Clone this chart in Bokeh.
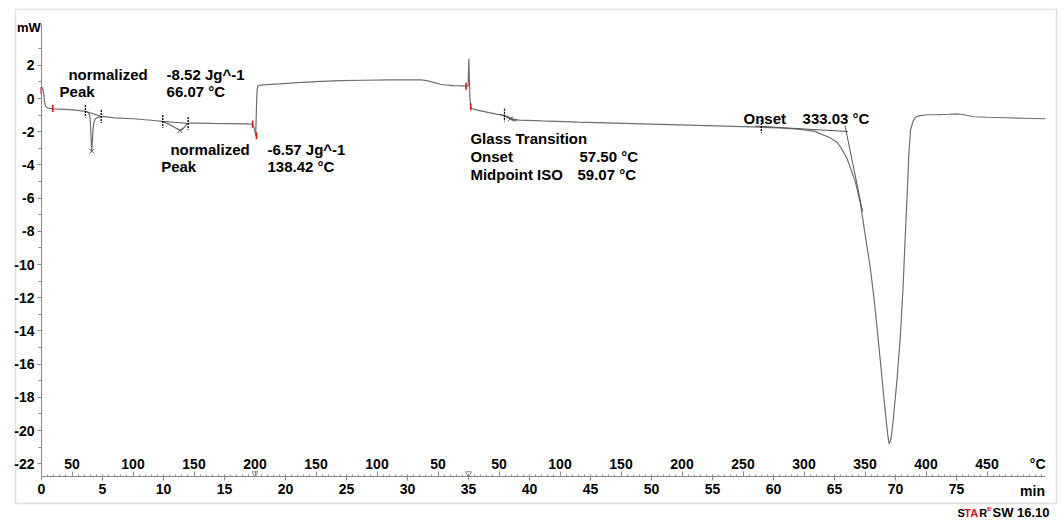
import math
from bokeh.plotting import figure
from bokeh.models import LinearAxis, FixedTicker, Range1d, ColumnDataSource, BoxAnnotation
from bokeh.core.properties import value
from bokeh.embed import file_html
from bokeh.resources import INLINE

FONT = "Liberation Sans"

# ---------------- data (time in min, heat flow in mW) ----------------
# segment 1: heating 25 -> 200 °C
t_heat1 = [0.02, 0.1, 0.18, 0.25, 0.33, 0.45, 0.7, 1.0, 2.0, 3.0, 3.6, 3.85, 3.95, 4.02, 4.07,
           4.11, 4.16, 4.22, 4.3, 4.42, 4.6, 4.95, 6.0, 7.5, 9.0, 9.9, 10.3, 10.7, 11.1, 11.34,
           11.5, 11.7, 11.9, 12.1, 12.5, 14.0, 15.5, 16.8, 17.27, 17.4, 17.5, 17.55]
mw_heat1 = [0.7, 0.6, 0.3, -0.2, -0.45, -0.55, -0.6, -0.62, -0.66, -0.72, -0.77, -0.86, -1.0, -1.6, -2.5,
            -3.17, -2.7, -1.9, -1.4, -1.22, -1.15, -1.08, -1.17, -1.22, -1.31, -1.38, -1.5, -1.65, -1.82, -1.93,
            -1.88, -1.75, -1.55, -1.48, -1.48, -1.5, -1.51, -1.53, -1.55, -1.7, -2.0, -2.25]

# segment 2: cooling 200 -> 25 °C
t_cool = [17.55, 17.6, 17.64, 17.68, 17.73, 17.85, 18.2, 19.5, 21.0, 22.5, 24.5, 26.5, 28.5, 30.3,
          31.1, 31.6, 32.2, 32.7, 33.3, 33.8, 34.4, 34.8, 34.97]
mw_cool = [-2.25, -1.2, 0.0, 0.55, 0.74, 0.79, 0.82, 0.88, 0.96, 1.02, 1.08, 1.1, 1.12, 1.13,
           1.12, 1.08, 0.96, 0.86, 0.8, 0.78, 0.76, 0.74, 0.74]

# segment 3: heating 25 -> 500 °C
t_heat2 = [34.97, 35.0, 35.03, 35.07, 35.12, 35.18, 35.3, 35.8, 36.5, 37.3, 37.9, 38.2, 38.45, 38.7,
           39.2, 41.0, 44.0, 47.0, 50.0, 53.0, 56.0, 58.9, 60.5, 61.7, 62.7, 63.4, 63.85, 64.6, 65.2,
           65.5, 66.04, 66.72, 67.13, 67.5, 67.95, 68.2, 68.5, 68.77, 68.99, 69.18, 69.37, 69.48, 69.6,
           69.72, 69.86, 70.14, 70.41, 70.63, 70.8, 70.96, 71.09, 71.23, 71.45, 71.64, 72.0, 72.6, 73.5,
           74.4, 75.05, 75.6, 76.4, 77.5, 79.0, 80.5, 82.3]
mw_heat2 = [0.74, 1.6, 2.39, 1.2, 0.0, -0.5, -0.62, -0.72, -0.82, -0.94, -1.02, -1.1, -1.2, -1.27,
            -1.3, -1.35, -1.42, -1.48, -1.54, -1.6, -1.66, -1.73, -1.77, -1.83, -1.9, -1.98, -2.13, -2.35, -2.63,
            -2.93, -3.63, -5.04, -6.35, -8.15, -10.3, -11.8, -13.9, -15.9, -17.6, -19.0, -20.3, -20.8, -20.6,
            -20.0, -19.0, -16.8, -14.2, -11.2, -8.3, -5.7, -3.4, -1.9, -1.35, -1.13, -1.03, -0.98, -0.97,
            -0.95, -0.93, -0.98, -1.1, -1.13, -1.16, -1.19, -1.22]

# evaluation limits (black) and segment markers (red)
limit_t = [3.6, 4.9, 9.94, 12.02, 37.95, 59.0]
limit_mw = [-0.77, -1.08, -1.38, -1.5, -1.0, -1.68]
base_t0 = [3.6, 9.94, 58.5, 65.86, 37.6, 38.1]
base_mw0 = [-0.77, -1.38, -1.66, -1.63, -0.95, -1.12]
base_t1 = [4.9, 12.02, 66.1, 67.3, 38.9, 39.0]
base_mw1 = [-1.08, -1.5, -1.99, -6.8, -1.38, -1.3]
cross_t = [4.11, 11.34, 38.44]
cross_mw = [-3.17, -1.93, -1.22]
red_t = [-0.02, 0.92, 17.3, 17.62, 34.8, 35.18]
red_mw = [0.48, -0.6, -1.55, -2.25, 0.74, -0.5]
seg_bounds = [17.5, 35.0]

# axes
y_ticks = [-22, -20, -18, -16, -14, -12, -10, -8, -6, -4, -2, 0, 2]
y_minor = [-21, -19, -17, -15, -13, -11, -9, -7, -5, -3, -1, 1, 3]
x_ticks = [0, 5, 10, 15, 20, 25, 30, 35, 40, 45, 50, 55, 60, 65, 70, 75]
temp_labels = ["50", "100", "150", "200", "150", "100", "50", "50", "100", "150", "200",
               "250", "300", "350", "400", "450"]
temp_label_min = [2.5, 7.5, 12.5, 17.5, 22.5, 27.5, 32.5, 37.5, 42.5, 47.5, 52.5,
                  57.5, 62.5, 67.5, 72.5, 77.5]

# annotation texts
ann_text = ["normalized", "-8.52 Jg^-1", "Peak", "66.07 °C",
            "normalized", "-6.57 Jg^-1", "Peak", "138.42 °C",
            "Glass Transition", "Onset", "57.50 °C", "Midpoint ISO", "59.07 °C",
            "Onset", "333.03 °C"]
ann_x = [2.21, 10.25, 1.48, 10.25,
         10.57, 18.52, 9.81, 18.52,
         35.16, 35.16, 44.1, 35.16, 43.93,
         57.54, 62.38]
ann_y = [1.45, 1.45, 0.42, 0.42,
         -3.07, -3.07, -4.12, -4.12,
         -2.39, -3.47, -3.47, -4.58, -4.58,
         -1.18, -1.18]

# footer "STARe SW 16.10"
foot_text = ["S", "TA", "R", "e", "SW 16.10"]
foot_x = [75.08, 75.64, 76.86, 77.5, 77.95]
foot_dy = [0.0, 0.0, 0.0, 0.22, 0.0]
foot_col = ["black", "#e01010", "black", "#e01010", "black"]
foot_size = ["11px", "11px", "11px", "8px", "13px"]

# ---------------- figure (frame = whole canvas) ----------------
W, H = 1061, 520
PX0, PY0 = 41.0, 98.0          # pixel of t=0 min, 0 mW
SX, SY = 12.2, 16.6            # px per min, px per mW
X0, X1 = (0 - PX0) / SX, (W - PX0) / SX
Y0, Y1 = (PY0 - H) / SY, PY0 / SY
XAX_Y = -22.77

p = figure(frame_width=W, frame_height=H,
           x_range=Range1d(X0, X1), y_range=Range1d(Y0, Y1),
           output_backend="svg", toolbar_location=None,
           x_axis_location=None, y_axis_location=None,
           min_border=0, min_border_left=0, min_border_right=0,
           min_border_top=0, min_border_bottom=0)
p.grid.grid_line_color = None
p.outline_line_color = None
p.background_fill_color = "white"
p.border_fill_color = "white"

# outer chart box
p.add_layout(BoxAnnotation(left=(15 - PX0) / SX, right=(1056 - PX0) / SX,
                           top=(PY0 - 9) / SY, bottom=(PY0 - 503) / SY,
                           fill_alpha=0, line_color="#9c9c9c", line_width=1.5, level="underlay"))

AX_COL = "#8a8a8a"

yax = LinearAxis(fixed_location=0, bounds=(XAX_Y, 4.45),
                 ticker=FixedTicker(ticks=y_ticks, minor_ticks=y_minor))
yax.major_label_overrides = {v: str(v) for v in y_ticks}
yax.axis_line_color = AX_COL
yax.major_tick_line_color = AX_COL
yax.minor_tick_line_color = AX_COL
yax.major_tick_out = 4
yax.major_tick_in = 0
yax.minor_tick_out = 3
yax.minor_tick_in = 0
yax.major_label_standoff = 3
yax.major_label_text_font = FONT
yax.major_label_text_font_style = "bold"
yax.major_label_text_font_size = "14px"
yax.major_label_text_color = "black"
p.add_layout(yax, "left")

xax = LinearAxis(fixed_location=XAX_Y, bounds=(0, 82.3),
                 ticker=FixedTicker(ticks=x_ticks, minor_ticks=[i * 0.5 for i in range(0, 165)]))
xax.axis_line_color = AX_COL
xax.major_tick_line_color = AX_COL
xax.minor_tick_line_color = AX_COL
xax.major_tick_out = 4
xax.major_tick_in = 2
xax.minor_tick_out = 0
xax.minor_tick_in = 2
xax.major_label_standoff = 4
xax.major_label_text_font = FONT
xax.major_label_text_font_style = "bold"
xax.major_label_text_font_size = "14px"
xax.major_label_text_color = "black"
p.add_layout(xax, "below")

tax = LinearAxis(fixed_location=XAX_Y, bounds=(0, 82.3),
                 ticker=FixedTicker(ticks=temp_label_min, minor_ticks=[]))
tax.axis_line_alpha = 0
tax.major_tick_line_color = AX_COL
tax.major_tick_in = 5
tax.major_tick_out = 0
tax.major_label_text_alpha = 0
tax.major_label_text_font_size = "1px"
p.add_layout(tax, "below")

# curve
CURVE = "#6f6f6f"
p.line(t_heat1, mw_heat1, line_color=CURVE, line_width=1.2)
p.line(t_cool, mw_cool, line_color=CURVE, line_width=1.2)
p.line(t_heat2, mw_heat2, line_color=CURVE, line_width=1.2)

# evaluation construction lines
p.segment(x0=base_t0, y0=base_mw0, x1=base_t1, y1=base_mw1, line_color="#555555", line_width=1)
p.segment(x0=limit_t, y0=[m + 0.38 for m in limit_mw], x1=limit_t, y1=[m - 0.38 for m in limit_mw],
          line_color="black", line_width=1.3, line_dash="2 1")
p.scatter(cross_t, cross_mw, marker="x", size=7, line_color="#555555", line_width=1)
p.scatter(red_t, red_mw, marker="dash", angle=math.pi / 2, size=7, line_color="#e01010", line_width=1.6)
p.scatter(seg_bounds, [XAX_Y + 0.18] * len(seg_bounds), marker="inverted_triangle", size=6,
          fill_color=None, line_color=AX_COL, line_width=1)

# temperature scale labels
p.text(x=temp_label_min, y=[-22.0] * len(temp_label_min), text=temp_labels,
       text_font=value(FONT), text_font_style="bold", text_font_size="14px",
       text_align="center", text_baseline="middle", text_color="black")
p.text(x=[82.3], y=[-22.0], text=["°C"], text_font=value(FONT), text_font_style="bold",
       text_font_size="14px", text_align="right", text_baseline="middle", text_color="black")
p.text(x=[82.25], y=[-23.67], text=["min"], text_font=value(FONT), text_font_style="bold",
       text_font_size="14px", text_align="right", text_baseline="middle", text_color="black")
p.text(x=[-0.05], y=[4.28], text=["mW"], text_font=value(FONT), text_font_style="bold",
       text_font_size="13px", text_align="right", text_baseline="middle", text_color="black")

# annotations
src = ColumnDataSource(dict(x=ann_x, y=ann_y, text=ann_text))
p.text(x="x", y="y", text="text", source=src, text_font=value(FONT), text_font_style="bold",
       text_font_size="15px", text_align="left", text_baseline="middle", text_color="black")

# footer
FY = (PY0 - 512) / SY
fsrc = ColumnDataSource(dict(x=foot_x, y=[FY + d for d in foot_dy], text=foot_text,
                             col=foot_col, size=foot_size))
p.text(x="x", y="y", text="text", source=fsrc, text_font=value(FONT), text_font_style="bold",
       text_font_size="size", text_color="col", text_align="left", text_baseline="middle")

open("out.html", "w").write(file_html(p, INLINE))
